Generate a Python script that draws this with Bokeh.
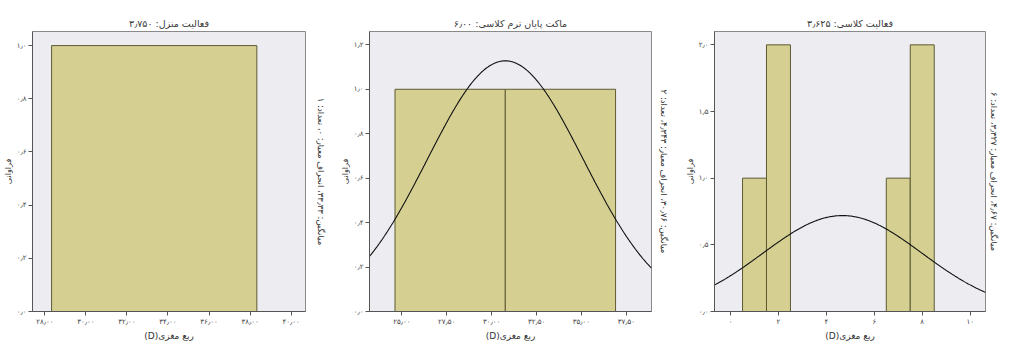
import numpy as np
from bokeh.plotting import figure
from bokeh.layouts import row
from bokeh.models import FixedTicker, LinearAxis, ColumnDataSource
from bokeh.embed import file_html
from bokeh.resources import INLINE

# ---------------- data ----------------
titles = ["فعالیت منزل: ۳٫۷۵۰", "ماکت پایان ترم کلاسی: ۶٫۰۰", "فعالیت کلاسی: ۳٫۶۲۵"]
stats_texts = [
    "میانگین: ۳۳٫۳۳، انحراف معیار: ۰، تعداد: ۱",
    "میانگین: ۳۰٫۷۶، انحراف معیار: ۴٫۳۴۳، تعداد: ۲",
    "میانگین: ۴٫۶۷، انحراف معیار: ۳٫۳۲۷، تعداد: ۶",
]
y_label = "فراوانی"
x_label = "\u202bربع مغزی(D)\u202c"

# panel 1
p1_bin_left = [28.33]
p1_bin_right = [38.33]
p1_counts = [1]
p1_mean, p1_sd, p1_n = 33.33, 0.0, 1
p1_xticks = [28, 30, 32, 34, 36, 38, 40]
p1_xtick_labels = ["۲۸٫۰۰", "۳۰٫۰۰", "۳۲٫۰۰", "۳۴٫۰۰", "۳۶٫۰۰", "۳۸٫۰۰", "۴۰٫۰۰"]
p1_yticks = [0.0, 0.2, 0.4, 0.6, 0.8, 1.0]
p1_ytick_labels = ["۰٫۰", "۰٫۲", "۰٫۴", "۰٫۶", "۰٫۸", "۱٫۰"]

# panel 2
p2_bin_left = [24.62, 30.76]
p2_bin_right = [30.76, 36.90]
p2_counts = [1, 1]
p2_mean, p2_sd, p2_n = 30.76, 4.343, 2
p2_xticks = [25.0, 27.5, 30.0, 32.5, 35.0, 37.5]
p2_xtick_labels = ["۲۵٫۰۰", "۲۷٫۵۰", "۳۰٫۰۰", "۳۲٫۵۰", "۳۵٫۰۰", "۳۷٫۵۰"]
p2_yticks = [0.0, 0.2, 0.4, 0.6, 0.8, 1.0, 1.2]
p2_ytick_labels = ["۰٫۰", "۰٫۲", "۰٫۴", "۰٫۶", "۰٫۸", "۱٫۰", "۱٫۲"]

# panel 3
p3_bin_left = [0.5, 1.5, 6.5, 7.5]
p3_bin_right = [1.5, 2.5, 7.5, 8.5]
p3_counts = [1, 2, 1, 2]
p3_mean, p3_sd, p3_n = 4.67, 3.327, 6
p3_xticks = [0, 2, 4, 6, 8, 10]
p3_xtick_labels = ["۰", "۲", "۴", "۶", "۸", "۱۰"]
p3_yticks = [0.0, 0.5, 1.0, 1.5, 2.0]
p3_ytick_labels = ["۰٫۰", "۰٫۵", "۱٫۰", "۱٫۵", "۲٫۰"]

# ---------------- style / layout ----------------
FONT = "DejaVu Sans"
BAR_FILL = "#D5D092"
BAR_LINE = "#5E5A33"
PLOT_BG = "#ECECF1"
H = 343


def make_panel(title, stats, bl, br, counts, mean, sd, n, xticks, xlabels, yticks, ylabels,
               xr, yr, width, left_border, right_border, stat_standoff):
    p = figure(width=width, height=H, x_range=xr, y_range=yr, output_backend="svg",
               toolbar_location=None, min_border_left=left_border, min_border_right=right_border,
               min_border_top=31, min_border_bottom=30)
    p.background_fill_color = PLOT_BG
    p.border_fill_color = "white"
    p.outline_line_color = "#8a8a8a"
    p.outline_line_width = 1
    p.grid.visible = False

    p.title.text = title
    p.title.align = "center"
    p.title.text_font = FONT
    p.title.text_font_size = "9.5px"
    p.title.text_font_style = "normal"
    p.title.text_color = "#3a3a3a"
    p.title.standoff = 5

    src = ColumnDataSource(dict(left=bl, right=br, top=counts, bottom=[0] * len(counts)))
    p.quad(left="left", right="right", top="top", bottom="bottom", source=src,
           fill_color=BAR_FILL, line_color=BAR_LINE, line_width=1)

    if sd > 0:
        bw = br[0] - bl[0]
        xs = np.linspace(xr[0], xr[1], 300)
        ys = n * bw / (sd * np.sqrt(2 * np.pi)) * np.exp(-0.5 * ((xs - mean) / sd) ** 2)
        p.line(xs, ys, line_color="#111111", line_width=1.1)

    for ax in (p.xaxis, p.yaxis):
        ax.axis_line_color = "#555555"
        ax.major_tick_line_color = "#555555"
        ax.major_tick_out = 4
        ax.major_tick_in = 0
        ax.minor_tick_line_color = None
        ax.major_label_text_font = FONT
        ax.major_label_text_font_size = "7px"
        ax.major_label_text_color = "#444444"
        ax.major_label_standoff = 2
        ax.axis_label_text_font = FONT
        ax.axis_label_text_font_style = "normal"
        ax.axis_label_text_color = "#333333"

    p.xaxis.ticker = FixedTicker(ticks=xticks)
    p.xaxis.major_label_overrides = {t: l for t, l in zip(xticks, xlabels)}
    p.yaxis.ticker = FixedTicker(ticks=yticks)
    p.yaxis.major_label_overrides = {t: l for t, l in zip(yticks, ylabels)}

    p.xaxis.axis_label = x_label
    p.xaxis.axis_label_text_font_size = "9px"
    p.xaxis.axis_label_standoff = 2

    p.yaxis.axis_label = y_label
    p.yaxis.axis_label_text_font_size = "8px"
    p.yaxis.axis_label_standoff = 1

    # statistics text, rotated, on the right of the frame
    rax = LinearAxis(ticker=FixedTicker(ticks=[]), axis_line_color=None,
                     major_tick_line_color=None, minor_tick_line_color=None,
                     major_label_text_font_size="0px", major_label_standoff=0,
                     major_tick_out=0, major_tick_in=0,
                     axis_label=stats, axis_label_standoff=stat_standoff,
                     axis_label_text_font=FONT, axis_label_text_font_size="8.5px",
                     axis_label_text_font_style="normal", axis_label_text_color="#333333")
    p.add_layout(rax, "right")
    return p


f1 = make_panel(titles[0], stats_texts[0], p1_bin_left, p1_bin_right, p1_counts,
                p1_mean, p1_sd, p1_n, p1_xticks, p1_xtick_labels, p1_yticks, p1_ytick_labels,
                (27.4, 40.7), (0, 1.053), 337, 29, 32, 10)
f2 = make_panel(titles[1], stats_texts[1], p2_bin_left, p2_bin_right, p2_counts,
                p2_mean, p2_sd, p2_n, p2_xticks, p2_xtick_labels, p2_yticks, p2_ytick_labels,
                (23.2, 38.9), (0, 1.26), 345, 30, 31, 7)
f3 = make_panel(titles[2], stats_texts[2], p3_bin_left, p3_bin_right, p3_counts,
                p3_mean, p3_sd, p3_n, p3_xticks, p3_xtick_labels, p3_yticks, p3_ytick_labels,
                (-0.67, 10.64), (0, 2.1), 319, 30, 15, 3)

layout = row(f1, f2, f3, spacing=0)
open("out.html", "w").write(file_html(layout, INLINE))
